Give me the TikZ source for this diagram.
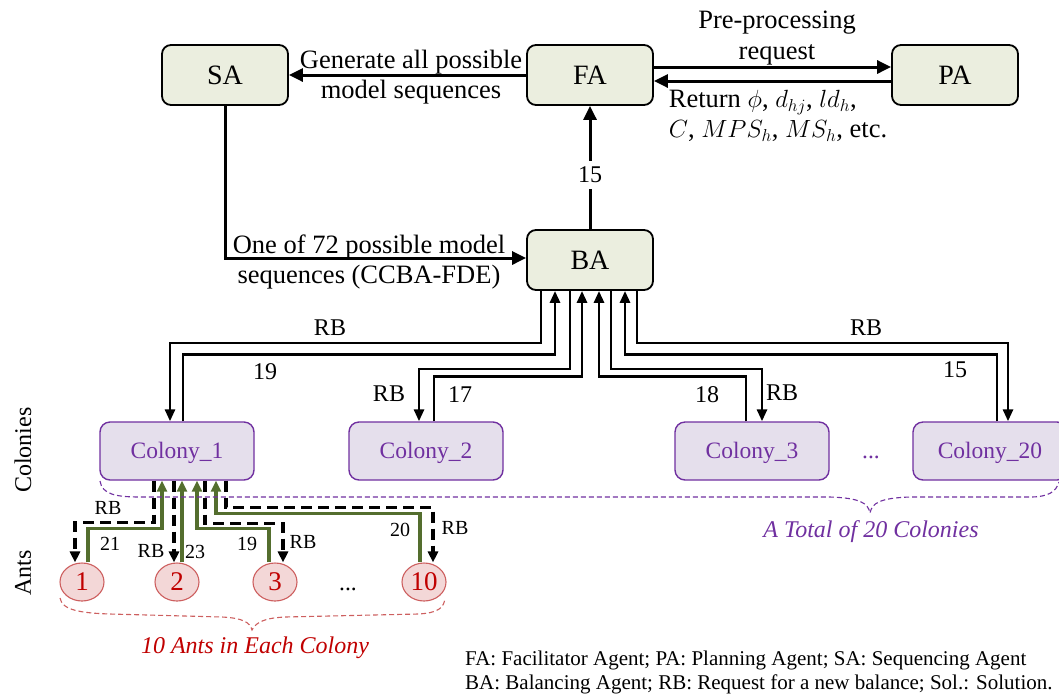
\documentclass[tikz,border=0pt]{standalone}
\usepackage{fontspec}
\setmainfont{Liberation Serif}
\usetikzlibrary{arrows.meta,shapes.geometric}

\definecolor{boxfill}{RGB}{235,238,223}
\definecolor{colfill}{RGB}{229,223,236}
\definecolor{colline}{RGB}{112,48,160}
\definecolor{antfill}{RGB}{243,215,215}
\definecolor{antline}{RGB}{205,95,95}
\definecolor{anttext}{RGB}{192,0,0}
\definecolor{antarrow}{RGB}{84,110,46}

\newcommand{\fs}[1]{\fontsize{#1}{1.15\dimexpr#1pt\relax}\selectfont}

\begin{document}
\begin{tikzpicture}[x=1pt,y=-1pt,
  agent/.style={draw=black, line width=1.8pt, fill=boxfill, rounded corners=9pt,
    minimum width=126pt, minimum height=60pt, inner sep=0pt, font=\fs{28}},
  colony/.style={draw=colline, line width=1.4pt, fill=colfill, rounded corners=10pt,
    minimum width=154pt, minimum height=58pt, inner sep=0pt, text=colline, font=\fs{23.5},
    text height=17pt, text depth=3pt},
  ant/.style={ellipse, draw=antline, line width=1.1pt, fill=antfill, minimum width=44pt,
    minimum height=38pt, inner sep=0pt, text=anttext, font=\fs{27}},
  arr/.style={draw=black, line width=3pt, -{Triangle[length=14pt,width=13pt]}},
  sarr/.style={draw=black, line width=2.8pt, -{Triangle[length=12pt,width=10pt]}},
  rbdash/.style={draw=black, line width=3.3pt, dash pattern=on 11pt off 6pt,
    -{Triangle[length=11pt,width=10pt]}},
  garr/.style={draw=antarrow, line width=3.3pt, -{Triangle[length=11pt,width=10pt]}},
  lbl/.style={font=\fs{26.5}, align=center, inner sep=1pt},
  num/.style={font=\fs{24}, inner sep=1pt},
  small/.style={font=\fs{20}, inner sep=1pt},
]
\useasboundingbox (0,0) rectangle (1059,697);

% agents
\node[agent] (SA) at (225,75) {SA};
\node[agent] (FA) at (590,75) {FA};
\node[agent] (PA) at (955,75) {PA};
\node[agent] (BA) at (590,260) {BA};

% colonies
\node[colony] (C1) at (177,451) {Colony\_1};
\node[colony] (C2) at (426,451) {Colony\_2};
\node[colony] (C3) at (752,451) {Colony\_3};
\node[colony] (C20) at (990,451) {Colony\_20};
\node[anchor=base, font=\fs{23.5}, text=colline] (cdots) at (871,458) {...};

% ants
\node[ant] (A1) at (82,582) {1};
\node[ant] (A2) at (177,582) {2};
\node[ant] (A3) at (275,582) {3};
\node[ant] (A10) at (424,582) {10};
\node[anchor=base, font=\fs{23.5}] (adots) at (348,590) {...};

% agent links
\draw[arr] (FA.west) -- (SA.east);
\node[lbl] (genlbl) at (411,77) {Generate all possible\\model sequences};
\draw[arr] ([yshift=8pt]FA.east) -- ([yshift=8pt]PA.west);
\draw[arr] ([yshift=-6pt]PA.west) -- ([yshift=-6pt]FA.east);
\node[lbl] (prelbl) at (777,38) {Pre-processing\\request};
\node[lbl, align=left] (retlbl) at (778,116)
  {Return $\phi$, $d_{hj}$, $ld_h$,\\$C$, $MPS_h$, $MS_h$, etc.};
\draw[arr] (SA.south) |- ([yshift=2pt]BA.west);
\node[lbl] (seqlbl) at (369,262) {One of 72 possible model\\sequences (CCBA-FDE)};
\draw[arr] (BA.north) -- node[pos=0.44, fill=white, num, inner sep=6pt] (n15) {15} (FA.south);

% balancing requests and colony replies
\draw[sarr] ([xshift=-49pt]BA.south) -- ++(0,52) -| ([xshift=-7pt]C1.north);
\draw[sarr] ([xshift=6pt]C1.north) -- ++(0,-67) -| ([xshift=-35pt]BA.south);
\draw[sarr] ([xshift=-20pt]BA.south) -- ++(0,78) -| ([xshift=-7pt]C2.north);
\draw[sarr] ([xshift=8pt]C2.north) -- ++(0,-45) -| ([xshift=-8pt]BA.south);
\draw[sarr] ([xshift=-6pt]C3.north) -- ++(0,-45) -| ([xshift=9pt]BA.south);
\draw[sarr] ([xshift=21pt]BA.south) -- ++(0,78) -| ([xshift=10pt]C3.north);
\draw[sarr] ([xshift=7pt]C20.north) -- ++(0,-67) -| ([xshift=35pt]BA.south);
\draw[sarr] ([xshift=47pt]BA.south) -- ++(0,52) -| ([xshift=18pt]C20.north);

\node[num] (l1) at (330,328) {RB};
\node[num] (l2) at (265,372) {19};
\node[num] (l3) at (389,394) {RB};
\node[num] (l4) at (460,395) {17};
\node[num] (l5) at (707,395) {18};
\node[num] (l6) at (782,393) {RB};
\node[num] (l7) at (955,370) {15};
\node[num] (l8) at (866,328) {RB};

% ants and Colony_1
\draw[rbdash] ([xshift=-23pt]C1.south) -- ++(0,42) -| ([xshift=-7pt]A1.north);
\draw[garr] ([xshift=6pt]A1.north) -- ++(0,-34) -| ([xshift=-15pt]C1.south);
\draw[rbdash] ([xshift=-3pt]C1.south) -- ([xshift=-3pt]A2.north);
\draw[garr] ([xshift=5pt]A2.north) -- ([xshift=5pt]C1.south);
\draw[garr] ([xshift=-6pt]A3.north) -- ++(0,-34) -| ([xshift=20pt]C1.south);
\draw[rbdash] ([xshift=28pt]C1.south) -- ++(0,43) -| ([xshift=8pt]A3.north);
\draw[garr] ([xshift=-4pt]A10.north) -- ++(0,-49) -| ([xshift=39pt]C1.south);
\draw[rbdash] ([xshift=49pt]C1.south) -- ++(0,27) -| ([xshift=9pt]A10.north);

\node[small] (m1) at (108,508) {RB};
\node[small] (m2) at (110,544) {21};
\node[small] (m3) at (151,551) {RB};
\node[small] (m4) at (195,552) {23};
\node[small] (m5) at (247,544) {19};
\node[small] (m6) at (303,542) {RB};
\node[small] (m7) at (400,530) {20};
\node[small] (m8) at (455,528) {RB};

% braces
\draw[colline, line width=1.1pt, dash pattern=on 5pt off 3pt]
  (100,481) .. controls (102,494) and (115,497) .. (140,497) -- (830,497)
  .. controls (860,498) and (868,503) .. (870,513)
  .. controls (872,503) and (880,498) .. (910,497) -- (1030,497)
  .. controls (1048,497) and (1056,492) .. (1059,482);
\node[font=\itshape\fs{24}, text=colline] (coltotal) at (871,532) {A Total of 20 Colonies};

\draw[antline, line width=1.1pt, dash pattern=on 5pt off 3pt]
  (60,598) .. controls (62,610) and (80,613) .. (110,614) -- (222,617)
  .. controls (242,618) and (250,622) .. (252,630)
  .. controls (256,622) and (265,618) .. (285,617) -- (418,614)
  .. controls (438,613) and (444,608) .. (445,598);
\node[font=\itshape\fs{24}, text=anttext] (anttotal) at (255,648) {10 Ants in Each Colony};

% side labels
\node[rotate=90, font=\fs{24}] (sidecol) at (23,450) {Colonies};
\node[rotate=90, font=\fs{24}] (sideant) at (23,573) {Ants};

% legend
\node[anchor=west, align=left, font=\fontsize{21}{24}\selectfont, inner sep=0pt] (legend) at (465,672)
  {FA: Facilitator Agent; PA: Planning Agent; SA: Sequencing Agent\\
   BA: Balancing Agent; RB: Request for a new balance; Sol.: Solution.};
\end{tikzpicture}
\end{document}
